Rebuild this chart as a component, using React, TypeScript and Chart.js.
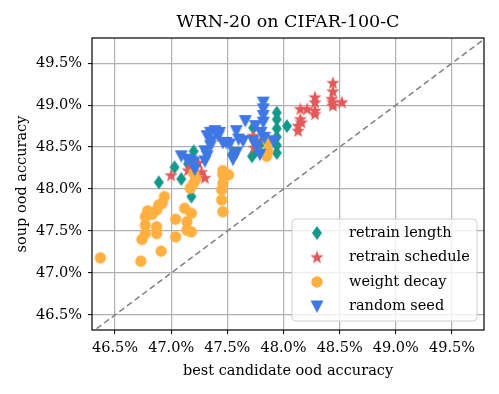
import React, { useEffect, useRef } from "react";
import { Chart, registerables } from "chart.js";

Chart.register(...registerables);

// ---------- data ----------
const xTicks = [46.5, 47.0, 47.5, 48.0, 48.5, 49.0, 49.5];
const yTicks = [46.5, 47.0, 47.5, 48.0, 48.5, 49.0, 49.5];
const diagonalXY = [46.2, 49.9];

const legendLabels = ["retrain length", "retrain schedule", "weight decay", "random seed"];

// retrain length (teal diamonds)
const lengthX = [46.89, 47.03, 47.09, 47.18, 47.20, 47.15, 47.55, 47.73, 47.72, 47.75, 47.94, 47.94, 47.94, 47.94, 47.94, 47.94, 48.03, 47.85, 47.80];
const lengthY = [48.08, 48.26, 48.12, 47.91, 48.45, 48.30, 48.43, 48.73, 48.39, 48.45, 48.91, 48.83, 48.72, 48.62, 48.52, 48.43, 48.75, 48.60, 48.55];

// retrain schedule (red stars)
const scheduleX = [47.00, 47.15, 47.18, 47.24, 47.21, 47.30, 47.27, 47.73, 47.76, 47.74, 47.75, 48.13, 48.15, 48.13, 48.16, 48.15, 48.21, 48.28, 48.28, 48.28, 48.28, 48.44, 48.44, 48.43, 48.44, 48.44, 48.52];
const scheduleY = [48.16, 48.22, 48.27, 48.31, 48.17, 48.13, 48.20, 48.63, 48.53, 48.49, 48.58, 48.75, 48.83, 48.69, 48.79, 48.95, 48.95, 49.09, 49.03, 48.93, 48.89, 49.26, 49.16, 49.07, 49.03, 48.99, 49.03];

// weight decay (orange circles)
const decayX = [46.37, 46.73, 46.91, 46.74, 46.77, 46.87, 46.87, 46.77, 46.77, 46.79, 46.87, 46.92, 46.94, 46.89, 46.83, 47.04, 47.04, 47.14, 47.18, 47.18, 47.14, 47.12, 47.17, 47.20, 47.20, 47.22, 47.46, 47.46, 47.45, 47.45, 47.46, 47.51, 47.46, 47.86, 47.86, 47.85];
const decayY = [47.18, 47.14, 47.26, 47.40, 47.47, 47.55, 47.47, 47.57, 47.67, 47.74, 47.75, 47.83, 47.91, 47.81, 47.70, 47.64, 47.43, 47.61, 47.71, 47.49, 47.51, 47.77, 48.01, 48.07, 48.19, 48.12, 48.17, 48.07, 47.99, 47.87, 47.73, 48.17, 48.22, 48.57, 48.45, 48.39];

// random seed (blue down triangles)
const seedX = [47.09, 47.14, 47.18, 47.21, 47.20, 47.30, 47.30, 47.32, 47.35, 47.36, 47.35, 47.32, 47.39, 47.42, 47.43, 47.46, 47.49, 47.52, 47.58, 47.55, 47.57, 47.60, 47.58, 47.64, 47.66, 47.73, 47.75, 47.76, 47.79, 47.80, 47.82, 47.82, 47.82, 47.82, 47.83, 47.91];
const seedY = [48.39, 48.35, 48.33, 48.23, 48.31, 48.33, 48.45, 48.63, 48.67, 48.57, 48.51, 48.39, 48.69, 48.63, 48.67, 48.55, 48.55, 48.53, 48.43, 48.35, 48.41, 48.59, 48.69, 48.57, 48.81, 48.57, 48.75, 48.51, 48.41, 48.67, 49.03, 48.95, 48.87, 48.79, 48.61, 48.57];

const colors = ["#12998b", "#e25a5a", "#ffb040", "#3f78e4"];

const FONT = "'DejaVu Serif', serif";

// ---------- marker images ----------
function makeCanvas(size: number) {
  const c = document.createElement("canvas");
  c.width = size;
  c.height = size;
  const ctx = c.getContext("2d") as CanvasRenderingContext2D;
  ctx.translate(size / 2, size / 2);
  return { c, ctx };
}
function diamondImg(color: string) {
  const { c, ctx } = makeCanvas(16);
  ctx.beginPath();
  ctx.moveTo(0, -7);
  ctx.lineTo(5, 0);
  ctx.lineTo(0, 7);
  ctx.lineTo(-5, 0);
  ctx.closePath();
  ctx.fillStyle = color;
  ctx.fill();
  return c;
}
function starImg(color: string) {
  const { c, ctx } = makeCanvas(16);
  ctx.beginPath();
  for (let i = 0; i < 10; i++) {
    const r = i % 2 === 0 ? 7 : 2.9;
    const a = -Math.PI / 2 + (i * Math.PI) / 5;
    ctx.lineTo(r * Math.cos(a), r * Math.sin(a));
  }
  ctx.closePath();
  ctx.fillStyle = color;
  ctx.fill();
  return c;
}
function circleImg(color: string) {
  const { c, ctx } = makeCanvas(14);
  ctx.beginPath();
  ctx.arc(0, 0, 5.7, 0, Math.PI * 2);
  ctx.fillStyle = color;
  ctx.fill();
  return c;
}
function triImg(color: string) {
  const { c, ctx } = makeCanvas(16);
  ctx.beginPath();
  ctx.moveTo(-6.5, -6);
  ctx.lineTo(6.5, -6);
  ctx.lineTo(0, 6.5);
  ctx.closePath();
  ctx.fillStyle = color;
  ctx.fill();
  return c;
}

function pts(xs: number[], ys: number[]) {
  return xs.map((x, i) => ({ x, y: ys[i] }));
}

export default function App() {
  const ref = useRef<HTMLCanvasElement | null>(null);

  useEffect(() => {
    document.body.style.margin = "0";
    const canvas = ref.current;
    if (!canvas) return;

    const markers = [diamondImg(colors[0]), starImg(colors[1]), circleImg(colors[2]), triImg(colors[3])];

    const framePlugin = {
      id: "frameAndLegend",
      afterDraw(chart: any) {
        const { ctx, chartArea } = chart;
        const { left, right, top, bottom } = chartArea;
        ctx.save();
        // frame
        ctx.strokeStyle = "#000";
        ctx.lineWidth = 1.2;
        ctx.strokeRect(left, top, right - left, bottom - top);
        // title
        ctx.fillStyle = "#000";
        ctx.font = `17.5px ${FONT}`;
        ctx.textAlign = "center";
        ctx.textBaseline = "alphabetic";
        ctx.fillText("WRN-20 on CIFAR-100-C", (left + right) / 2, 27);
        // legend
        const lx = 292, ly = 219, lw = 185, lh = 102, rr = 4;
        ctx.beginPath();
        ctx.moveTo(lx + rr, ly);
        ctx.lineTo(lx + lw - rr, ly);
        ctx.quadraticCurveTo(lx + lw, ly, lx + lw, ly + rr);
        ctx.lineTo(lx + lw, ly + lh - rr);
        ctx.quadraticCurveTo(lx + lw, ly + lh, lx + lw - rr, ly + lh);
        ctx.lineTo(lx + rr, ly + lh);
        ctx.quadraticCurveTo(lx, ly + lh, lx, ly + lh - rr);
        ctx.lineTo(lx, ly + rr);
        ctx.quadraticCurveTo(lx, ly, lx + rr, ly);
        ctx.closePath();
        ctx.fillStyle = "rgba(255,255,255,0.8)";
        ctx.fill();
        ctx.strokeStyle = "#d0d0d0";
        ctx.lineWidth = 1;
        ctx.stroke();
        ctx.font = `14.5px ${FONT}`;
        ctx.textAlign = "left";
        ctx.textBaseline = "middle";
        ctx.fillStyle = "#000";
        legendLabels.forEach((lab, i) => {
          const cy = 233 + i * 24.5;
          const m = markers[i];
          ctx.drawImage(m, 317 - m.width / 2, cy - m.height / 2);
          ctx.fillText(lab, 349, cy);
        });
        ctx.restore();
      },
    };

    const scatterDs = (i: number, xs: number[], ys: number[], order: number) => ({
      type: "scatter" as const,
      label: legendLabels[i],
      data: pts(xs, ys),
      pointStyle: markers[i],
      pointRadius: 6,
      pointHoverRadius: 6,
      backgroundColor: colors[i],
      borderColor: colors[i],
      order,
    });

    const chart = new Chart(canvas, {
      type: "scatter",
      data: {
        datasets: [
          {
            type: "line",
            label: "diag",
            data: diagonalXY.map((v) => ({ x: v, y: v })),
            borderColor: "#808080",
            borderWidth: 1.5,
            borderDash: [6, 3.5],
            pointRadius: 0,
            fill: false,
            order: 5,
          } as any,
          scatterDs(3, seedX, seedY, 0),
          scatterDs(2, decayX, decayY, 1),
          scatterDs(1, scheduleX, scheduleY, 2),
          scatterDs(0, lengthX, lengthY, 3),
        ],
      },
      plugins: [framePlugin],
      options: {
        animation: false,
        responsive: false,
        devicePixelRatio: 1,
        layout: { padding: { left: 0, right: 15, top: 38, bottom: 0 } },
        plugins: {
          legend: { display: false },
          title: { display: false },
          tooltip: { enabled: false },
        },
        scales: {
          x: {
            type: "linear",
            min: 46.295,
            max: 49.785,
            afterBuildTicks: (s: any) => {
              s.ticks = xTicks.map((v) => ({ value: v }));
            },
            afterFit: (s: any) => {
              s.height = 64;
            },
            border: { display: false },
            grid: { color: "#b0b0b0", lineWidth: 1.2, tickColor: "#000", tickLength: 4, tickWidth: 1 },
            ticks: {
              color: "#000",
              padding: 6,
              maxRotation: 0,
              font: { family: FONT, size: 14.5 },
              callback: (v: any) => Number(v).toFixed(1) + "%",
            },
            title: {
              display: true,
              text: "best candidate ood accuracy",
              color: "#000",
              font: { family: FONT, size: 14.5 },
              padding: { top: 0, bottom: 13.6 },
            },
          },
          y: {
            type: "linear",
            min: 46.32,
            max: 49.8,
            afterBuildTicks: (s: any) => {
              s.ticks = yTicks.map((v) => ({ value: v }));
            },
            afterFit: (s: any) => {
              s.width = 92;
            },
            border: { display: false },
            grid: { color: "#b0b0b0", lineWidth: 1.2, tickColor: "#000", tickLength: 4, tickWidth: 1 },
            ticks: {
              color: "#000",
              padding: 6,
              font: { family: FONT, size: 14.5 },
              callback: (v: any) => Number(v).toFixed(1) + "%",
            },
            title: {
              display: true,
              text: "soup ood accuracy",
              color: "#000",
              font: { family: FONT, size: 14.5 },
              padding: { top: 13.6, bottom: 0 },
            },
          },
        },
      } as any,
    });

    return () => chart.destroy();
  }, []);

  return <canvas ref={ref} width={499} height={394} style={{ display: "block", width: 499, height: 394 }} />;
}
